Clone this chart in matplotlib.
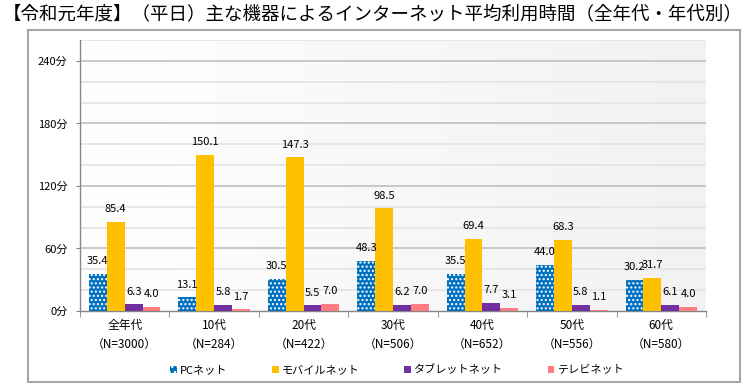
import numpy as np
import matplotlib
matplotlib.use("Agg")
import matplotlib.pyplot as plt
from matplotlib.colors import LinearSegmentedColormap
from matplotlib.patches import Rectangle, Patch

plt.rcParams['font.family'] = ['Noto Sans CJK JP', 'DejaVu Sans']
plt.rcParams['hatch.linewidth'] = 1.0

title = "【令和元年度】（平日）主な機器によるインターネット平均利用時間（全年代・年代別）"
groups = ["全年代", "10代", "20代", "30代", "40代", "50代", "60代"]
n_sizes = [3000, 284, 422, 506, 652, 556, 580]
series = ["PCネット", "モバイルネット", "タブレットネット", "テレビネット"]
pc = [35.4, 13.1, 30.5, 48.3, 35.5, 44.0, 30.2]
mobile = [85.4, 150.1, 147.3, 98.5, 69.4, 68.3, 31.7]
tablet = [6.3, 5.8, 5.5, 6.2, 7.7, 5.8, 6.1]
tv = [4.0, 1.7, 7.0, 7.0, 3.1, 1.1, 4.0]
yticks = [0, 60, 120, 180, 240]

colors = ["#0070C0", "#FFC000", "#7030A0", "#FF7C80"]
values = [pc, mobile, tablet, tv]

fig = plt.figure(figsize=(7.47, 3.87), dpi=100)
fig.patch.set_facecolor("white")

# outer frame
fig.patches.append(Rectangle((28 / 747, 1 - 382 / 387), 712 / 747, 352 / 387,
                             transform=fig.transFigure, facecolor="none",
                             edgecolor="#a6a6a6", lw=1.5, zorder=0))

fig.text(0.004, 0.962, title, fontsize=13.3, va="center", ha="left", color="black")

ax = fig.add_axes([80 / 747, 1 - 311 / 387, 626 / 747, 271 / 387])
ax.set_facecolor("white")

# background gradient
cmap = LinearSegmentedColormap.from_list("bg", ["#ffffff", "#f8f8f8", "#f2f2f2"])
ax.imshow(np.linspace(0, 1, 256).reshape(1, -1), extent=[-0.5, 6.5, 0, 260],
          aspect="auto", cmap=cmap, zorder=0)

x = np.arange(len(groups))
w = 0.2
for i, (vals, c) in enumerate(zip(values, colors)):
    pos = x + (i - 1.5) * w
    if i == 0:
        ax.bar(pos, vals, w, color=c, edgecolor="white", hatch="....", lw=0, zorder=3)
    else:
        ax.bar(pos, vals, w, color=c, lw=0, zorder=3)
    for px, v in zip(pos, vals):
        ax.annotate(f"{v:.1f}", (px, v), xytext=(0, 7), textcoords="offset points",
                    ha="center", va="baseline", fontsize=8, color="black", zorder=4)

ax.set_xlim(-0.5, 6.5)
ax.set_ylim(0, 260)

for y in range(20, 261, 20):
    if y % 60 == 0:
        ax.axhline(y, color="#bfbfbf", lw=1.2, zorder=1)
    else:
        ax.axhline(y, color="#e3e3e3", lw=1.2, zorder=1)

ax.set_yticks(yticks)
ax.set_yticklabels([f"{t}分" for t in yticks], fontsize=8)
ax.tick_params(axis="y", length=3, color="#868686", pad=6)

ax.set_xticks(x)
ax.set_xticklabels([f"{g}\n（N={n}）" for g, n in zip(groups, n_sizes)],
                   fontsize=8.5, linespacing=1.6)
ax.set_xticks(np.arange(-0.5, 7.0, 1.0), minor=True)
ax.tick_params(axis="x", which="major", length=0, pad=6)
ax.tick_params(axis="x", which="minor", length=4, color="#868686")

for s in ["top", "right"]:
    ax.spines[s].set_visible(False)
for s in ["left", "bottom"]:
    ax.spines[s].set_color("#868686")
    ax.spines[s].set_linewidth(1.0)

handles = [Patch(facecolor=colors[0], edgecolor="white", hatch="...", lw=0)] + \
          [Patch(facecolor=c, lw=0) for c in colors[1:]]
fig.legend(handles, series, loc="center", bbox_to_anchor=(0.532, 0.044), ncol=4,
           frameon=False, fontsize=8, handlelength=0.6, handleheight=0.6,
           handletextpad=0.3, columnspacing=4.0)

fig.savefig("out.png", dpi=100)
